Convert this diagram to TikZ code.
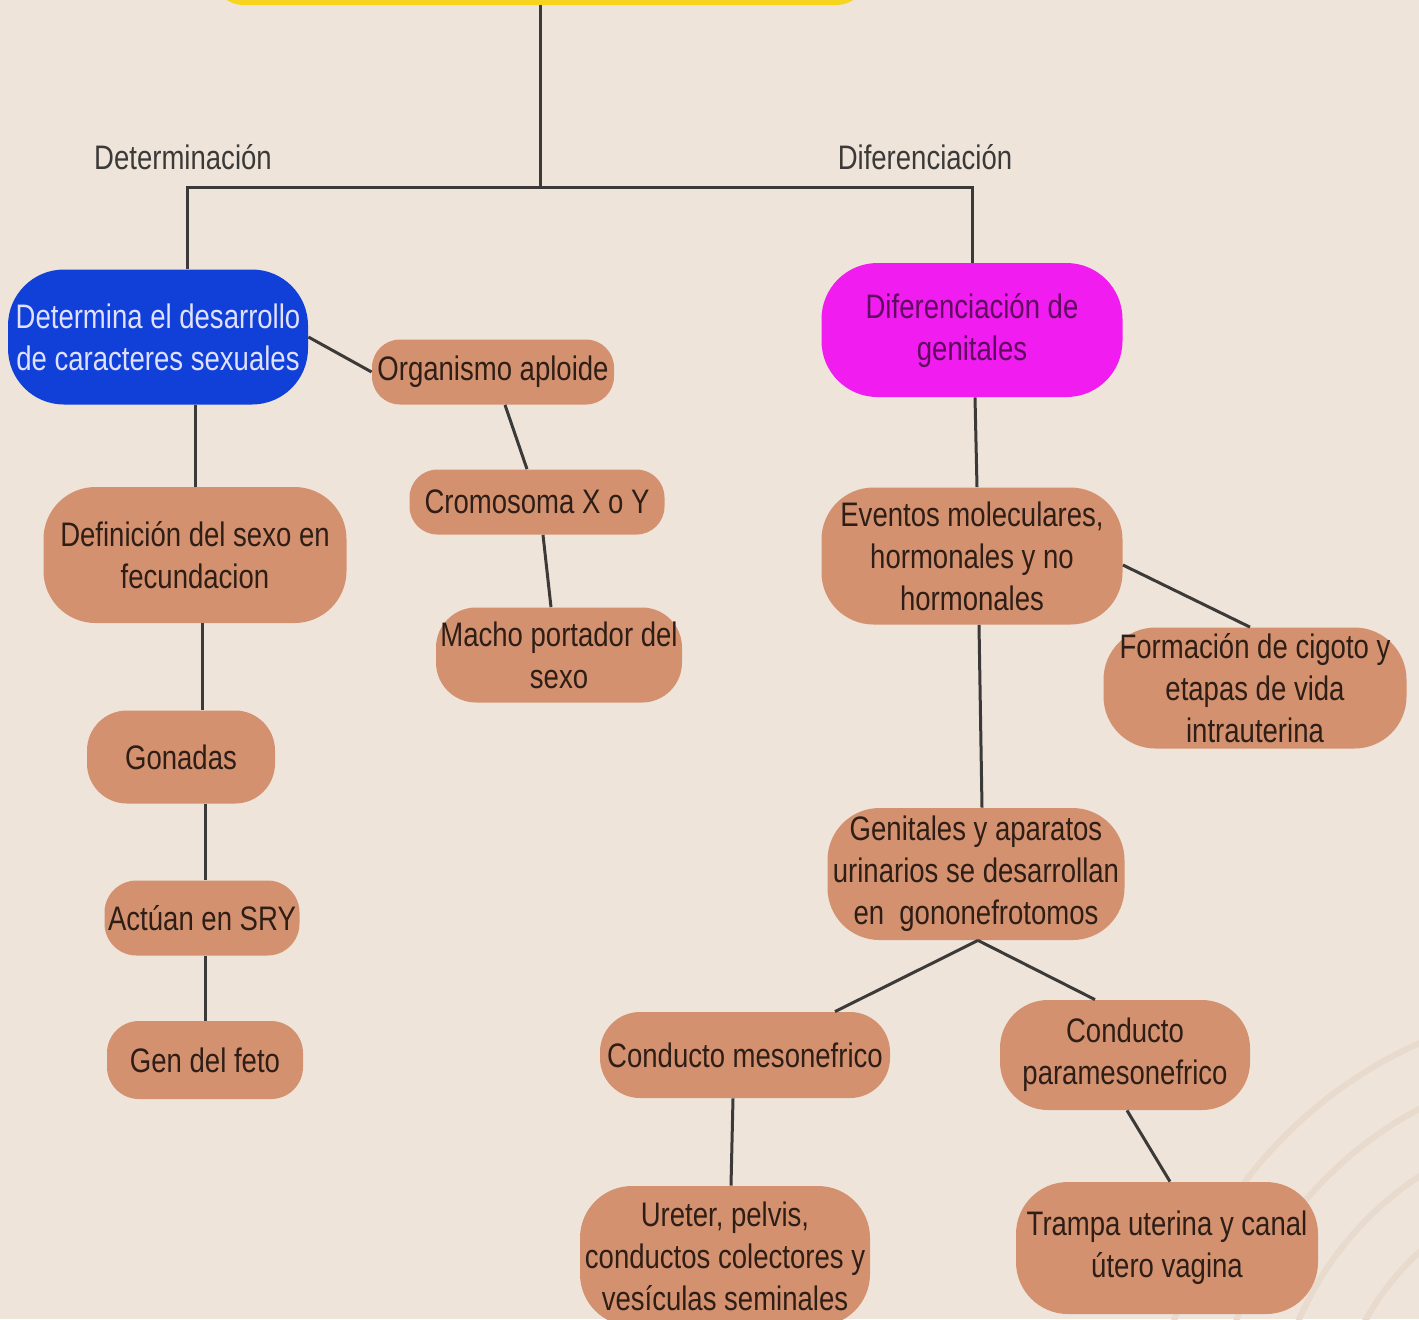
\documentclass[tikz,border=0pt]{standalone}
\usepackage{fontspec}
\setmainfont{Liberation Sans}[FakeStretch=0.81]

\definecolor{bgbeige}{HTML}{EEE4DA}
\definecolor{arcbeige}{HTML}{E8DBCD}
\definecolor{boxtan}{HTML}{D49170}
\definecolor{boxtext}{HTML}{2E1E16}
\definecolor{topyellow}{HTML}{F7D41E}
\definecolor{detblue}{HTML}{1040D8}
\definecolor{difmagenta}{HTML}{F01CF0}
\definecolor{linegray}{HTML}{3C3A38}

\tikzset{
	box/.style={fill=boxtan, text=boxtext, align=center, inner sep=0pt,
		font=\fontsize{17pt}{21pt}\selectfont},
	link/.style={draw=linegray, line width=1.5pt},
	branch/.style={text=linegray, font=\fontsize{17pt}{21pt}\selectfont}
}

\begin{document}
\begin{tikzpicture}[x=0.5pt, y=-0.5pt]
			% page and background
			\useasboundingbox (0,0) rectangle (1419,1319);
			\clip (0,0) rectangle (1419,1319);
			\fill[bgbeige] (0,0) rectangle (1419,1319);

			% faint arcs, lower right
			\foreach \r in {268,328,386,445}
				\draw[arcbeige, line width=3pt] (1600,1450) circle (\r);

			% title box (cut off at the top)
			\node (title) [fill=topyellow, rounded corners=16pt, minimum width=328pt, minimum height=35pt] at (540,-30) {};
			\coordinate (split) at (540,187);

			% branch labels
			\node (detlabel) [branch] at (183,157) {Determinación};
			\node (diflabel) [branch] at (925,157) {Diferenciación};

			% determinacion side
			\node (blue) [box, fill=detblue, text=white!88!blue, rounded corners=28pt, minimum width=150pt, minimum height=67.5pt] at (158,337) {Determina el desarrollo\\de caracteres sexuales};
			\node (org) [box, rounded corners=14pt, minimum width=121pt, minimum height=32.5pt] at (493,372) {Organismo aploide};
			\node (crom) [box, rounded corners=14pt, minimum width=127.5pt, minimum height=32.5pt] at (537,502) {Cromosoma X o Y};
			\node (macho) [box, rounded corners=20pt, minimum width=123pt, minimum height=47.5pt] at (559,655) {Macho portador del\\sexo};
			\node (def) [box, rounded corners=26pt, minimum width=151.5pt, minimum height=68pt] at (195,555) {Definición del sexo en\\fecundacion};
			\node (gonadas) [box, rounded corners=20pt, minimum width=94pt, minimum height=46.5pt] at (181,757) {Gonadas};
			\node (actuan) [box, rounded corners=16pt, minimum width=97.5pt, minimum height=37.5pt] at (202,918) {Actúan en SRY};
			\node (gen) [box, rounded corners=16pt, minimum width=98pt, minimum height=39pt] at (205,1060) {Gen del feto};

			% diferenciacion side
			\node (magenta) [box, fill=difmagenta, text=black!60!difmagenta, rounded corners=28pt, minimum width=150.5pt, minimum height=67pt] at (972,330) {Diferenciación de\\genitales};
			\node (eventos) [box, rounded corners=26pt, minimum width=150.5pt, minimum height=68.5pt] at (972,556) {Eventos moleculares,\\hormonales y no\\hormonales};
			\node (formacion) [box, rounded corners=26pt, minimum width=151.5pt, minimum height=60.5pt] at (1255,688) {Formación de cigoto y\\etapas de vida\\intrauterina};
			\node (genitales) [box, rounded corners=26pt, minimum width=148.5pt, minimum height=66pt] at (976,874) {Genitales y aparatos\\urinarios se desarrollan\\en\ \ gononefrotomos};
			\node (meso) [box, rounded corners=20pt, minimum width=145pt, minimum height=43pt] at (745,1055) {Conducto mesonefrico};
			\node (para) [box, rounded corners=24pt, minimum width=125pt, minimum height=55pt] at (1125,1055) {Conducto\\paramesonefrico};
			\node (ureter) [box, rounded corners=26pt, minimum width=145pt, minimum height=70pt] at (725,1256) {Ureter, pelvis,\\conductos colectores y\\vesículas seminales};
			\node (trampa) [box, rounded corners=26pt, minimum width=151pt, minimum height=66pt] at (1167,1248) {Trampa uterina y canal\\útero vagina};

			% tree from the title
			\draw[link] (title.south) -- (split);
			\draw[link] ([xshift=14.5pt]blue.north) |- (split) -| (magenta.north);

			% determinacion links
			\draw[link] (blue.east) -- (org.west);
			\draw[link] ([xshift=6pt]org.south) -- ([xshift=-5pt]crom.north);
			\draw[link] ([xshift=3pt]crom.south) -- ([xshift=-4pt]macho.north);
			\draw[link] ([xshift=18.5pt]blue.south) -- (def.north);
			\draw[link] ([xshift=3.5pt]def.south) -- ([xshift=10.5pt]gonadas.north);
			\draw[link] ([xshift=12pt]gonadas.south) -- ([xshift=1.5pt]actuan.north);
			\draw[link] ([xshift=1.5pt]actuan.south) -- (gen.north);

			% diferenciacion links
			\draw[link] ([xshift=1.5pt]magenta.south) -- ([xshift=2.5pt]eventos.north);
			\draw[link] ([yshift=-4.5pt]eventos.east) -- ([xshift=-2.5pt]formacion.north);
			\draw[link] ([xshift=3.5pt]eventos.south) -- ([xshift=3pt]genitales.north);
			\draw[link] ([xshift=1pt]genitales.south) -- ([xshift=45pt]meso.north);
			\draw[link] ([xshift=1pt]genitales.south) -- ([xshift=-15pt]para.north);
			\draw[link] ([xshift=-6pt]meso.south) -- ([xshift=3pt]ureter.north);
			\draw[link] ([xshift=1pt]para.south) -- ([xshift=1.5pt]trampa.north);
\end{tikzpicture}
\end{document}
